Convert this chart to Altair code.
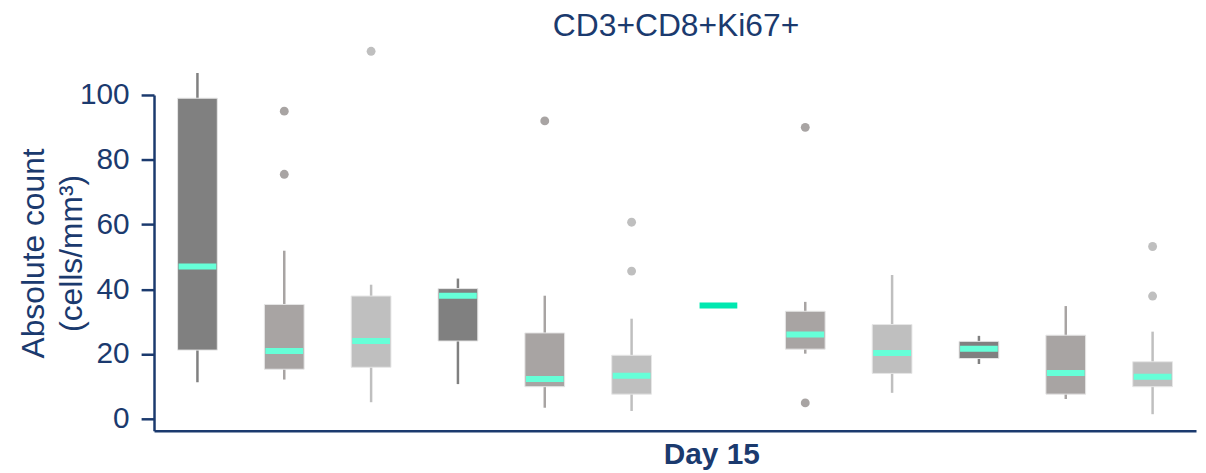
import altair as alt
import pandas as pd

# Box statistics (cells/mm3)
groups = [f"G{i}" for i in range(1, 13)]
shade = ["dark", "mid", "light"] * 4
whisk_lo = [11.3, 12.1, 5.1, 10.7, 3.4, 2.4, 35.0, 20.1, 8.0, 16.9, 6.1, 1.4]
q1 = [21.2, 15.3, 15.9, 24.0, 9.9, 7.6, 35.0, 21.5, 14.0, 18.6, 7.6, 9.9]
median = [47.0, 20.9, 24.0, 38.0, 12.3, 13.3, 35.0, 26.0, 20.3, 21.6, 14.1, 13.0]
q3 = [99.0, 35.3, 37.9, 40.2, 26.5, 19.6, 35.0, 33.2, 29.1, 23.9, 25.8, 17.6]
whisk_hi = [106.8, 51.9, 41.4, 43.3, 38.0, 30.9, 35.0, 36.1, 44.4, 25.6, 34.8, 26.9]
median_kind = ["normal"] * 6 + ["single"] + ["normal"] * 5

outlier_group = ["G2", "G2", "G3", "G5", "G6", "G6", "G8", "G8", "G12", "G12"]
outlier_value = [95.0, 75.5, 113.5, 92.0, 60.7, 45.6, 90.0, 4.9, 53.2, 37.9]

y_ticks = [0, 20, 40, 60, 80, 100]
chart_title = ["CD3+CD8+Ki67+"]

NAVY = "#1b3a6e"
shade_domain = ["dark", "mid", "light"]
shade_range = ["#808080", "#a8a4a3", "#bfbfbf"]

boxes = pd.DataFrame({
    "group": groups, "shade": shade, "lo": whisk_lo, "q1": q1,
    "median": median, "q3": q3, "hi": whisk_hi, "mkind": median_kind,
})
shade_of = dict(zip(groups, shade))
outs = pd.DataFrame({"group": outlier_group, "value": outlier_value})
outs["shade"] = outs["group"].map(shade_of)

W, H = 1049, 338

x = alt.X("group:N", sort=groups, scale=alt.Scale(paddingInner=0, paddingOuter=0),
          axis=alt.Axis(labels=False, ticks=False, title="Day 15", titleFontSize=30,
                        titleFont="Liberation Sans", titleFontWeight="bold",
                        titleColor=NAVY, titleX=561, titleY=33,
                        titleBaseline="alphabetic", titleAlign="center",
                        domainColor=NAVY, domainWidth=2.5))
yscale = alt.Scale(domain=[-3.7, 100], nice=False, zero=False)
color = alt.Color("shade:N", scale=alt.Scale(domain=shade_domain, range=shade_range), legend=None)

base = alt.Chart(boxes)

whisk_real = boxes[boxes["mkind"] == "normal"]
whiskers = alt.Chart(whisk_real).mark_rule(strokeWidth=2.5).encode(
    x=x,
    y=alt.Y("lo:Q", scale=yscale,
            axis=alt.Axis(values=y_ticks, title=["Absolute count", "(cells/mm³)"],
                          titleFontSize=32, titleFont="Liberation Sans",
                          titleFontWeight="normal", titleColor=NAVY,
                          titleAngle=-90, titleX=-121, titleY=159,
                          titleAlign="center", titleBaseline="middle",
                          titleLineHeight=38,
                          labelFontSize=30, labelFont="Liberation Sans",
                          labelColor=NAVY, labelPadding=12,
                          tickColor=NAVY, tickWidth=2.5, tickSize=13,
                          domainColor=NAVY, domainWidth=2.5, grid=False)),
    y2="hi:Q",
    color=color,
)

bars = alt.Chart(whisk_real).mark_bar(size=40, stroke="#e6e6e6", strokeWidth=1).encode(
    x=x, y=alt.Y("q1:Q", scale=yscale), y2="q3:Q", color=color, opacity=alt.value(1),
)

meds = base.mark_tick(thickness=6, size=38).encode(
    x=x, y=alt.Y("median:Q", scale=yscale),
    color=alt.Color("mkind:N", scale=alt.Scale(domain=["normal", "single"],
                                                 range=["#66ffd8", "#00e8b0"]), legend=None),
    opacity=alt.value(1),
)

points = alt.Chart(outs).mark_circle(size=80, opacity=1).encode(
    x=x, y=alt.Y("value:Q", scale=yscale), color=color,
)

title_text = alt.Chart(pd.DataFrame({"t": chart_title})).mark_text(
    fontSize=32, font="Liberation Sans", color=NAVY, align="center", baseline="alphabetic",
).encode(text="t:N", x=alt.value(W / 2 + 1), y=alt.value(-59))

chart = alt.layer(whiskers, bars, meds, points, title_text).resolve_scale(color="independent").properties(
    width=W, height=H,
    padding={"left": 147, "top": 86, "right": 2, "bottom": 41},
    autosize=alt.AutoSizeParams(type="none"),
    background="white",
).configure_view(strokeWidth=0, stroke="transparent")

chart.save("out.html", embed_options={"renderer": "svg", "actions": False})
